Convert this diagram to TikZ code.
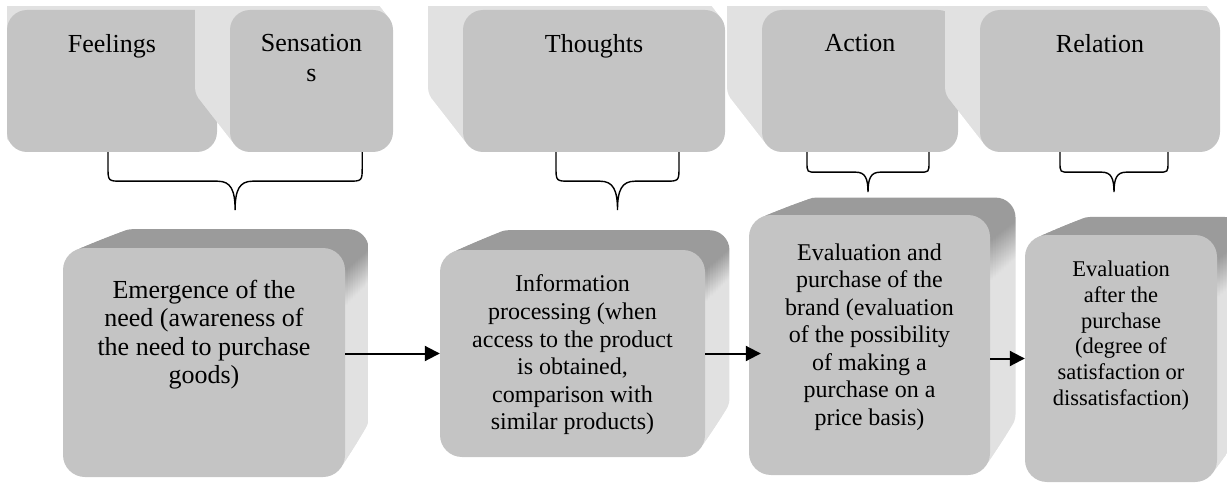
\documentclass[tikz,border=0pt]{standalone}
\usepackage{fontspec}
\setmainfont{Liberation Serif}
\usetikzlibrary{positioning,calc,shadows,arrows.meta}

\definecolor{facegray}{HTML}{C4C4C4}
\definecolor{topgray}{HTML}{9B9B9B}
\definecolor{sidegray}{HTML}{E1E1E1}
\pgfdeclareverticalshading{lid}{100bp}{color(0bp)=(sidegray); color(62bp)=(sidegray); color(70bp)=(topgray); color(100bp)=(topgray)}

\tikzset{
  face/.style={rectangle, fill=facegray, inner sep=0pt},
  flank/.style={general shadow={fill=sidegray, shadow xshift=-#1*3.5pt, shadow yshift=#1*4.5pt}},
  deep/.style={general shadow={shade, shading=lid, shadow xshift=#1*4pt, shadow yshift=#1*3.2pt, shadow scale=1-#1*0.009}},
  slab/.style={face, rounded corners=20pt, minimum height=142pt,
    flank=10, flank=9, flank=8, flank=7, flank=6, flank=5, flank=4, flank=3, flank=2, flank=1},
  block/.style={face, rounded corners=22pt,
    deep=10, deep=9, deep=8, deep=7, deep=6, deep=5, deep=4, deep=3, deep=2, deep=1},
  slabtext/.style={inner sep=0pt, align=center, font=\fontsize{26pt}{30pt}\selectfont},
  blocktext/.style={inner sep=0pt, align=center},
  curl/.style={line width=1.4pt, to path={let \p1=(\tikztostart), \p2=(\tikztotarget), \p3=($(\p1)!.5!(\p2)$) in
    -- (\x1,\y1-0.5*#1) .. controls (\x1,\y1-#1) .. (\x1+0.5*#1,\y1-#1)
    -- (\x3-0.6*#1,\y1-#1) .. controls (\x3-0.15*#1,\y1-#1) and (\x3,\y1-1.3*#1) .. (\x3,\y1-2*#1)
    .. controls (\x3,\y1-1.3*#1) and (\x3+0.15*#1,\y1-#1) .. (\x3+0.6*#1,\y1-#1)
    -- (\x2-0.5*#1,\y1-#1) .. controls (\x2,\y1-#1) .. (\x2,\y1-0.5*#1) -- (\p2)}},
  flow/.style={-{Triangle[length=15pt,width=15pt]}, line width=2pt}
}

\begin{document}
\begin{tikzpicture}[x=1pt, y=-1pt]
  \useasboundingbox (0,0) rectangle (1227,484);
  \clip (7,7) rectangle (1227,484);

  \node[slab, minimum width=210pt] (feel) at (112,81) {};
  \node[slabtext, below=24pt of feel.north] (feeltxt) {Feelings};
  \node[slab, minimum width=163pt] (sens) at (311.5,81) {};
  \node[slabtext, below=24pt of sens.north] (senstxt) {Sensation\\s};
  \node[slab, minimum width=262pt] (thou) at (594,81) {};
  \node[slabtext, below=24pt of thou.north] (thoutxt) {Thoughts};
  \node[slab, minimum width=196pt] (act) at (860,81) {};
  \node[slabtext, below=24pt of act.north] (acttxt) {Action};
  \node[slab, minimum width=240pt] (rel) at (1100,81) {};
  \node[slabtext, below=24pt of rel.north] (reltxt) {Relation};

  \node[block, minimum width=282pt, minimum height=229pt] (need) at (204,362.5) {};
  \node[blocktext, font=\fontsize{26pt}{28.3pt}\selectfont] (needtxt) at ([yshift=28pt]need.center)
    {Emergence of the\\need (awareness of\\the need to purchase\\goods)};
  \node[block, minimum width=265pt, minimum height=207pt] (info) at (572.5,353.5) {};
  \node[blocktext, font=\fontsize{24pt}{27.6pt}\selectfont] (infotxt) at ([yshift=-1.5pt]info.center)
    {Information\\processing (when\\access to the product\\is obtained,\\comparison with\\similar products)};
  \node[block, minimum width=241pt, minimum height=260pt] (brand) at (869.5,345) {};
  \node[blocktext, font=\fontsize{24pt}{27.5pt}\selectfont] (brandtxt) at ([yshift=8pt]brand.center)
    {Evaluation and\\purchase of the\\brand (evaluation\\of the possibility\\of making a\\purchase on a\\price basis)};
  \node[block, minimum width=192pt, minimum height=247pt] (after) at (1121,358.5) {};
  \node[blocktext, font=\fontsize{22.5pt}{25.7pt}\selectfont] (aftertxt) at ([yshift=23pt]after.center)
    {Evaluation\\after the\\purchase\\(degree of\\satisfaction or\\dissatisfaction)};

  \draw[curl=29pt] ([xshift=-4pt]feel.south) to ([xshift=-31pt]sens.south east);
  \draw[curl=29pt] ([xshift=-38pt]thou.south) to ([xshift=85pt]thou.south);
  \draw[curl=20pt] ([xshift=-53pt]act.south) to ([xshift=69pt]act.south);
  \draw[curl=20pt] ([xshift=-40pt]rel.south) to ([xshift=68pt]rel.south);

  \draw[flow] (need.east |- info.west) -- (info.west);
  \draw[flow] (info.east) -- ($(info.east -| brand.west)+(12,0)$);
  \draw[flow] (brand.east |- after.west) -- (after.west);
\end{tikzpicture}
\end{document}
